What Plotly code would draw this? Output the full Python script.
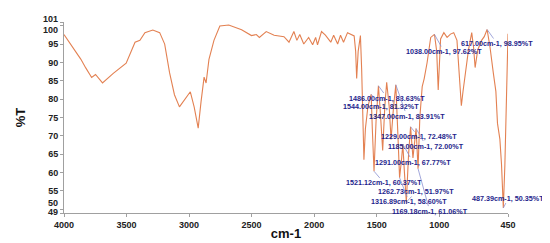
import plotly.graph_objects as go

# IR spectrum (wavenumber cm-1, %T)
wavenumber = [4000, 3866, 3826, 3779, 3748, 3720, 3692, 3606, 3503, 3432, 3393, 3353, 3290, 3235,
              3195, 3156, 3117, 3077, 3030, 2990, 2959, 2927, 2904, 2880, 2864, 2841, 2801, 2754,
              2683, 2580, 2501, 2462, 2438, 2383, 2320, 2241, 2201, 2162, 2138, 2115, 2083, 2044,
              2012, 1988, 1973, 1941, 1910, 1867, 1844, 1812, 1789, 1765, 1733, 1700, 1680, 1668,
              1660, 1648, 1630, 1620, 1602, 1590, 1570, 1555, 1544, 1535, 1521.12, 1505, 1486, 1470,
              1452, 1435, 1420, 1400, 1385, 1365, 1347, 1330, 1316.89, 1300, 1291, 1278, 1262.73,
              1245, 1229, 1210, 1195, 1185, 1169.18, 1155, 1136, 1120, 1097, 1068, 1038, 1020, 1008,
              995, 989, 963, 937, 910, 884, 858, 840, 823, 810, 792, 766, 740, 725, 713, 692, 661,
              640, 617, 594, 568, 547, 534, 515, 502, 487.39, 475, 463, 452, 450]
transmittance = [97.6, 90.9, 88.5, 85.9, 86.7, 85.5, 84.4, 87.0, 89.8, 95.5, 96.0, 98.1, 98.8, 98.1,
                 95.0, 87.2, 81.2, 77.9, 80.0, 82.0, 77.8, 72.1, 79.4, 86.0, 84.4, 90.8, 96.0, 99.9,
                 100.2, 98.9, 97.3, 97.6, 96.8, 98.4, 97.4, 97.0, 95.5, 98.4, 96.0, 97.6, 95.0, 96.8,
                 94.8, 96.8, 94.8, 98.4, 97.4, 95.5, 97.4, 95.0, 97.4, 95.5, 98.1, 97.6, 97.2, 93.0,
                 85.6, 93.0, 97.3, 88.0, 63.5, 72.0, 78.0, 80.0, 81.32, 72.0, 60.37, 74.0, 83.63, 76.0,
                 66.0, 78.0, 84.6, 78.0, 69.0, 78.0, 83.91, 70.0, 58.60, 64.0, 67.77, 60.0, 51.97,
                 65.0, 72.48, 64.0, 70.0, 72.00, 61.06, 75.0, 83.4, 85.6, 89.9, 96.8, 97.62, 93.0, 82.5,
                 93.0, 96.4, 98.1, 96.8, 97.7, 98.1, 96.0, 88.0, 78.2, 82.0, 86.4, 93.4, 98.1, 94.0, 88.6,
                 93.4, 96.0, 97.0, 98.95, 94.2, 87.3, 82.1, 73.4, 69.1, 62.3, 50.35, 62.0, 76.0, 95.0, 97.8]

# labelled peaks
peak_wn = [617.00, 1038.00, 1486.00, 1544.00, 1347.00, 1229.00, 1185.00, 1291.00,
           1521.12, 1262.73, 1316.89, 1169.18, 487.39]
peak_t = [98.95, 97.62, 83.63, 81.32, 83.91, 72.48, 72.00, 67.77,
          60.37, 51.97, 58.60, 61.06, 50.35]
# label offsets in pixels (text centre relative to the peak)
label_dx = [10, 9.5, 9, 10, 11, 8, 10, 10, 10, 10, 9.4, 11.7, 5]
label_dy = [14, 17, 12.2, 12.3, 31.3, 10, 17.5, 18, 11.7, -10.6, 24, 42.4, -10]

ytick_vals = [49, 50, 55, 60, 65, 70, 75, 80, 85, 90, 95, 100, 101]
xtick_vals = [4000, 3500, 3000, 2500, 2000, 1500, 1000, 450]

fig = go.Figure()
fig.add_trace(go.Scatter(x=wavenumber, y=transmittance, mode="lines",
                         line=dict(color="#E38152", width=1.1), showlegend=False))

for wn, t, dx, dy in zip(peak_wn, peak_t, label_dx, label_dy):
    fig.add_annotation(x=wn, y=t, text="<b>%.2fcm-1, %.2f%%T</b>" % (wn, t),
                       showarrow=True, arrowhead=0, arrowwidth=0.8, arrowcolor="#8A90D0",
                       ax=dx, ay=dy, standoff=0, borderpad=0,
                       font=dict(family="Liberation Sans", size=7.2, color="#1E1E8C"))

# edge tick labels nudged apart, as in the original (pixels, + is up)
edge_labels = {101: 3, 100: -4, 50: 6, 49: 1}
ytick_text = ["" if v in edge_labels else str(v) for v in ytick_vals]
for v, shift in edge_labels.items():
    fig.add_annotation(x=0, xref="paper", y=v, yref="y", text="<b>%d</b>" % v, showarrow=False,
                       xanchor="right", xshift=-4, yshift=shift,
                       font=dict(family="Liberation Sans", size=9, color="#222222"))

fig.update_layout(
    width=550, height=243,
    margin=dict(l=50, r=50, t=14, b=29),
    plot_bgcolor="white", paper_bgcolor="white",
    font=dict(family="Liberation Sans", size=9, color="#222222"),
    xaxis=dict(range=[4000, 450], tickvals=xtick_vals, ticktext=["<b>%d</b>" % v for v in xtick_vals],
               showgrid=False, zeroline=False, showline=True, linecolor="#A0A0A0", linewidth=1,
               ticks="outside", ticklen=3, tickcolor="#A0A0A0",
               title=dict(text="<b>cm-1</b>", font=dict(size=13, color="#111111"), standoff=0)),
    yaxis=dict(range=[49, 101], tickvals=ytick_vals, ticktext=["<b>%s</b>" % s if s else "" for s in ytick_text],
               showgrid=False, zeroline=False, showline=True, linecolor="#A0A0A0", linewidth=1,
               ticks="outside", ticklen=3, tickcolor="#A0A0A0",
               title=dict(text="<b>%T</b>", font=dict(size=13, color="#111111"), standoff=19)),
)

fig.write_html("out.html")
